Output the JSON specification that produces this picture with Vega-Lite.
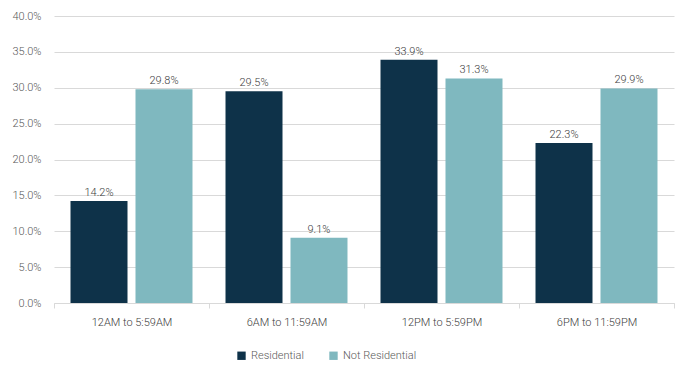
{
  "$schema": "https://vega.github.io/schema/vega-lite/v6.json",
  "autosize": {"type": "none"},
  "width": 620,
  "height": 287,
  "padding": {"left": 54, "top": 16, "right": 19, "bottom": 83},
  "config": {
    "view": {"stroke": null},
    "font": "Roboto",
    "axis": {"labelFont": "Roboto", "labelFontWeight": 300, "labelColor": "#595959", "labelFontSize": 11}
  },
  "data": {
    "values": [
      {"period": "12AM to 5:59AM", "type": "Residential", "value": 0.142},
      {"period": "12AM to 5:59AM", "type": "Not Residential", "value": 0.298},
      {"period": "6AM to 11:59AM", "type": "Residential", "value": 0.295},
      {"period": "6AM to 11:59AM", "type": "Not Residential", "value": 0.091},
      {"period": "12PM to 5:59PM", "type": "Residential", "value": 0.339},
      {"period": "12PM to 5:59PM", "type": "Not Residential", "value": 0.313},
      {"period": "6PM to 11:59PM", "type": "Residential", "value": 0.223},
      {"period": "6PM to 11:59PM", "type": "Not Residential", "value": 0.299}
    ]
  },
  "encoding": {
    "x": {
      "field": "period", "type": "nominal", "sort": null, "title": null,
      "scale": {"paddingInner": 0, "paddingOuter": 0},
      "axis": {"labelAngle": 0, "tickBand": "extent", "tickColor": "#d9d9d9", "tickSize": 5, "domainColor": "#d9d9d9", "labelPadding": 8, "labelColor": "#404040"}
    },
    "xOffset": {
      "field": "type", "type": "nominal", "sort": ["Residential", "Not Residential"],
      "scale": {"paddingInner": 0.123, "paddingOuter": 0.254}
    },
    "y": {
      "field": "value", "type": "quantitative", "title": null,
      "scale": {"domain": [0, 0.4]},
      "axis": {"format": ".1%", "values": [0, 0.05, 0.1, 0.15, 0.2, 0.25, 0.3, 0.35, 0.4], "labelOverlap": false, "domain": false, "ticks": false, "gridColor": "#d9d9d9", "labelPadding": 13}
    }
  },
  "layer": [
    {
      "mark": {"type": "bar"},
      "encoding": {
        "color": {
          "field": "type", "type": "nominal", "sort": ["Residential", "Not Residential"],
          "scale": {"domain": ["Residential", "Not Residential"], "range": ["#0e3249", "#7fb8bf"]},
          "legend": {
            "title": null, "orient": "none", "direction": "horizontal",
            "legendX": 182, "legendY": 334, "symbolType": "square", "symbolSize": 70,
            "symbolStrokeWidth": 0, "labelFont": "Roboto", "labelFontWeight": 300,
            "labelFontSize": 11, "labelColor": "#595959", "columnPadding": 24, "labelOffset": 4
          }
        }
      }
    },
    {
      "mark": {"type": "text", "dy": -8, "fontSize": 11, "fontWeight": 300, "color": "#404040", "font": "Roboto"},
      "encoding": {
        "text": {"field": "value", "type": "quantitative", "format": ".1%"}
      }
    }
  ]
}
